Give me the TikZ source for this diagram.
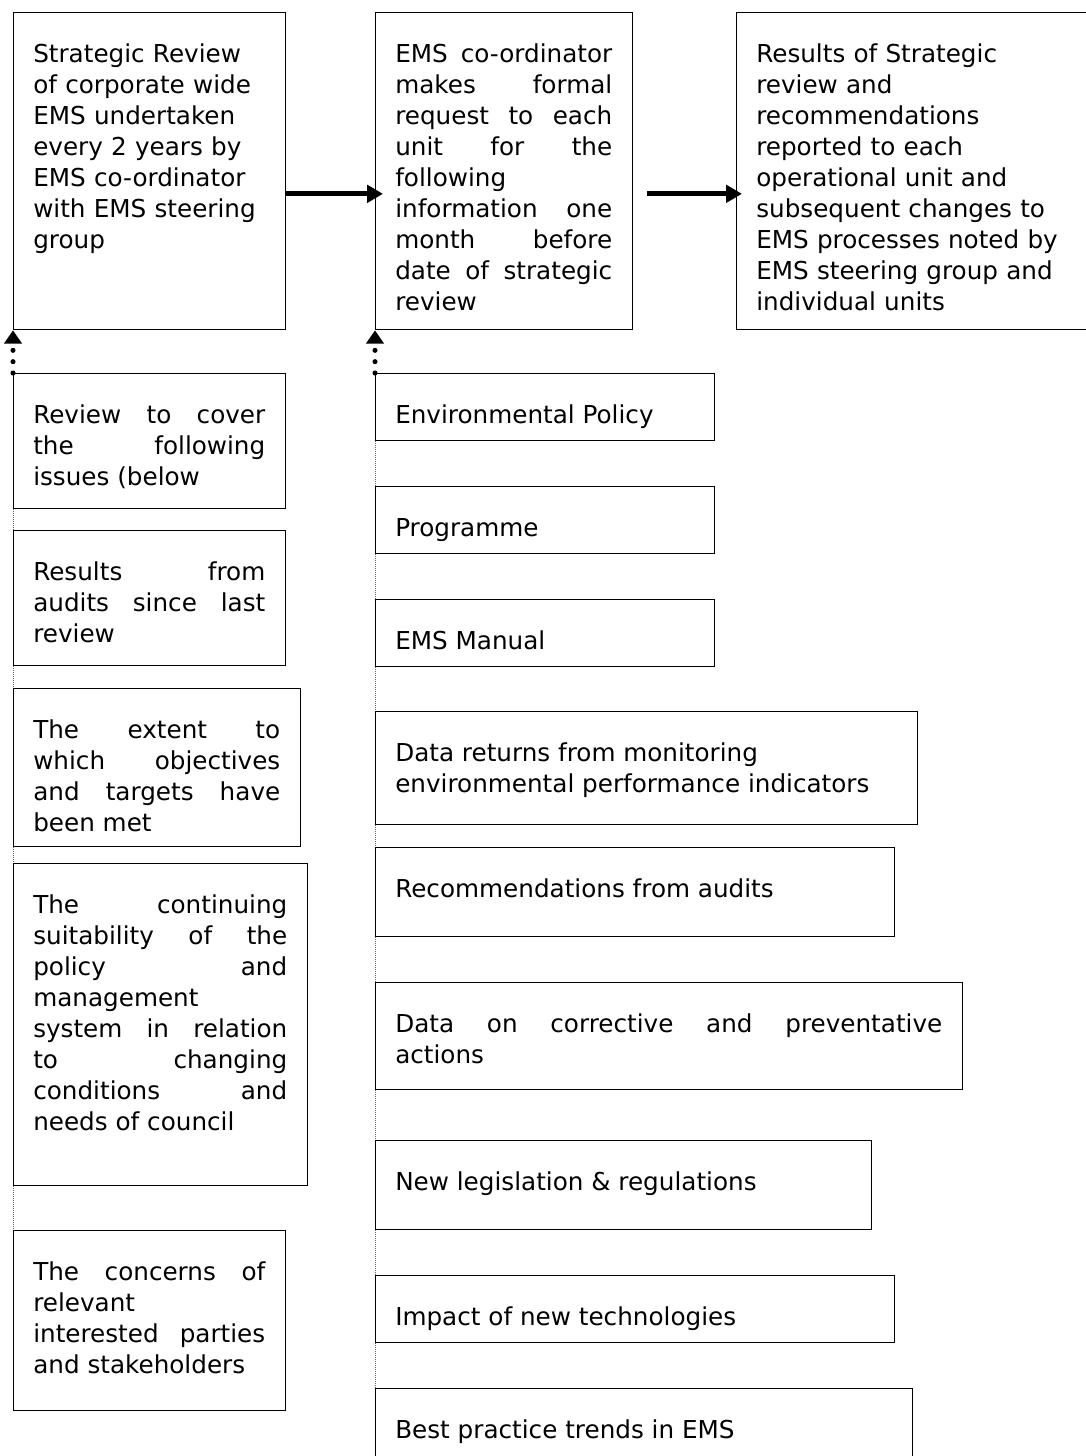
\documentclass[tikz,border=0pt]{standalone}
\usepackage{fontspec}
\setmainfont{DejaVu Sans}
\usetikzlibrary{arrows.meta}
\tikzstyle{frame} = [rectangle, draw, line width=1pt, anchor=north west, inner sep=0pt]
\tikzstyle{words} = [anchor=north west, inner sep=0pt, font=\fontsize{18.5}{23.25}\selectfont]
\tikzstyle{connector} = [line width=3.75pt, -{Triangle[length=12pt, width=13pt]}]
\tikzstyle{feed} = [line width=3.8pt, line cap=round, dash pattern=on 0pt off 8.5pt, -{Triangle[length=10pt, width=13pt]}]
\tikzstyle{link} = [densely dotted, line width=0.5pt, black!60]

\begin{document}
\begin{tikzpicture}[x=0.75pt, y=-0.75pt]
        \useasboundingbox (0,0) rectangle (1085,1456);
        % top row
        \node (review) [frame, minimum width=204pt, minimum height=237.75pt] at (13,12) {};
        \node (request) [frame, minimum width=192.75pt, minimum height=237.75pt] at (375,12) {};
        \node (results) [frame, minimum width=270pt, minimum height=237.75pt] at (736,12) {};
        \node (review-text) [words, align=left, text width=174pt] at ([xshift=15pt, yshift=-21.5pt]review.north west) {\strut Strategic Review\\ of corporate wide\\ EMS undertaken\\ every 2 years by\\ EMS co-ordinator\\ with EMS steering\\ group};
        \node (request-text) [words, align=justify, text width=162.75pt] at ([xshift=15pt, yshift=-21.5pt]request.north west) {\strut EMS co-ordinator\linebreak makes formal\linebreak request to each\linebreak unit for the\linebreak following\linebreak information one\linebreak month before\linebreak date of strategic\linebreak review};
        \node (results-text) [words, align=left, text width=231.75pt] at ([xshift=15pt, yshift=-21.5pt]results.north west) {\strut Results of Strategic\\ review and\\ recommendations\\ reported to each\\ operational unit and\\ subsequent changes to\\ EMS processes noted by\\ EMS steering group and\\ individual units};
        % issues to review
        \node (issue-1) [frame, minimum width=204pt, minimum height=101.25pt] at (13,373) {};
        \node (issue-2) [frame, minimum width=204pt, minimum height=101.25pt] at (13,530) {};
        \node (issue-3) [frame, minimum width=215.25pt, minimum height=118.5pt] at (13,688) {};
        \node (issue-4) [frame, minimum width=220.5pt, minimum height=241.5pt] at (13,863) {};
        \node (issue-5) [frame, minimum width=204pt, minimum height=135pt] at (13,1230) {};
        \node (issue-1-text) [words, align=justify, text width=174pt] at ([xshift=15pt, yshift=-21.5pt]issue-1.north west) {\strut Review to cover\linebreak the following\linebreak issues (below};
        \node (issue-2-text) [words, align=justify, text width=174pt] at ([xshift=15pt, yshift=-21.5pt]issue-2.north west) {\strut Results from\linebreak audits since last\linebreak review};
        \node (issue-3-text) [words, align=justify, text width=185.25pt] at ([xshift=15pt, yshift=-21.5pt]issue-3.north west) {\strut The extent to\linebreak which objectives\linebreak and targets have\linebreak been met};
        \node (issue-4-text) [words, align=justify, text width=190.5pt] at ([xshift=15pt, yshift=-21.5pt]issue-4.north west) {\strut The continuing\linebreak suitability of the\linebreak policy and\linebreak management\linebreak system in relation\linebreak to changing\linebreak conditions and\linebreak needs of council};
        \node (issue-5-text) [words, align=justify, text width=174pt] at ([xshift=15pt, yshift=-21.5pt]issue-5.north west) {\strut The concerns of\linebreak relevant\linebreak interested parties\linebreak and stakeholders};
        % information requested
        \node (info-1) [frame, minimum width=254.25pt, minimum height=50.25pt] at (375,373) {};
        \node (info-2) [frame, minimum width=254.25pt, minimum height=50.25pt] at (375,486) {};
        \node (info-3) [frame, minimum width=254.25pt, minimum height=50.25pt] at (375,599) {};
        \node (info-4) [frame, minimum width=406.5pt, minimum height=84.75pt] at (375,711) {};
        \node (info-5) [frame, minimum width=389.25pt, minimum height=66.75pt] at (375,847) {};
        \node (info-6) [frame, minimum width=440.25pt, minimum height=80.25pt] at (375,982) {};
        \node (info-7) [frame, minimum width=372pt, minimum height=66.75pt] at (375,1140) {};
        \node (info-8) [frame, minimum width=389.25pt, minimum height=50.25pt] at (375,1275) {};
        \node (info-9) [frame, minimum width=402.75pt, minimum height=75pt] at (375,1388) {};
        \node (info-1-text) [words, align=left] at ([xshift=15pt, yshift=-21.5pt]info-1.north west) {\strut Environmental Policy};
        \node (info-2-text) [words, align=left] at ([xshift=15pt, yshift=-21.5pt]info-2.north west) {\strut Programme};
        \node (info-3-text) [words, align=left] at ([xshift=15pt, yshift=-21.5pt]info-3.north west) {\strut EMS Manual};
        \node (info-4-text) [words, align=left] at ([xshift=15pt, yshift=-21.5pt]info-4.north west) {\strut Data returns from monitoring\\ environmental performance indicators};
        \node (info-5-text) [words, align=left] at ([xshift=15pt, yshift=-21.5pt]info-5.north west) {\strut Recommendations from audits};
        \node (info-6-text) [words, align=justify, text width=410.25pt] at ([xshift=15pt, yshift=-21.5pt]info-6.north west) {\strut Data on corrective and preventative\linebreak actions};
        \node (info-7-text) [words, align=left] at ([xshift=15pt, yshift=-21.5pt]info-7.north west) {\strut New legislation \& regulations};
        \node (info-8-text) [words, align=left] at ([xshift=15pt, yshift=-21.5pt]info-8.north west) {\strut Impact of new technologies};
        \node (info-9-text) [words, align=left] at ([xshift=15pt, yshift=-21.5pt]info-9.north west) {\strut Best practice trends in EMS};
        % arrows
        \draw [connector] ([yshift=-17pt]review.east) -- ([yshift=-17pt, xshift=6pt]request.west);
        \draw [connector, shorten <=10.5pt] ([yshift=-17pt]request.east) -- ([yshift=-17pt, xshift=4.5pt]results.west);
        \draw [feed] (issue-1.north west) -- (review.south west);
        \draw [feed] (info-1.north west) -- (request.south west);
        % dotted links
        \draw [link] (issue-1.south west) -- (issue-2.north west);
        \draw [link] (issue-2.south west) -- (issue-3.north west);
        \draw [link] (issue-3.south west) -- (issue-4.north west);
        \draw [link] (issue-4.south west) -- (issue-5.north west);
        \draw [link] (info-1.south west) -- (info-2.north west);
        \draw [link] (info-2.south west) -- (info-3.north west);
        \draw [link] (info-3.south west) -- (info-4.north west);
        \draw [link] (info-4.south west) -- (info-5.north west);
        \draw [link] (info-5.south west) -- (info-6.north west);
        \draw [link] (info-6.south west) -- (info-7.north west);
        \draw [link] (info-7.south west) -- (info-8.north west);
        \draw [link] (info-8.south west) -- (info-9.north west);
    \end{tikzpicture}
\end{document}
